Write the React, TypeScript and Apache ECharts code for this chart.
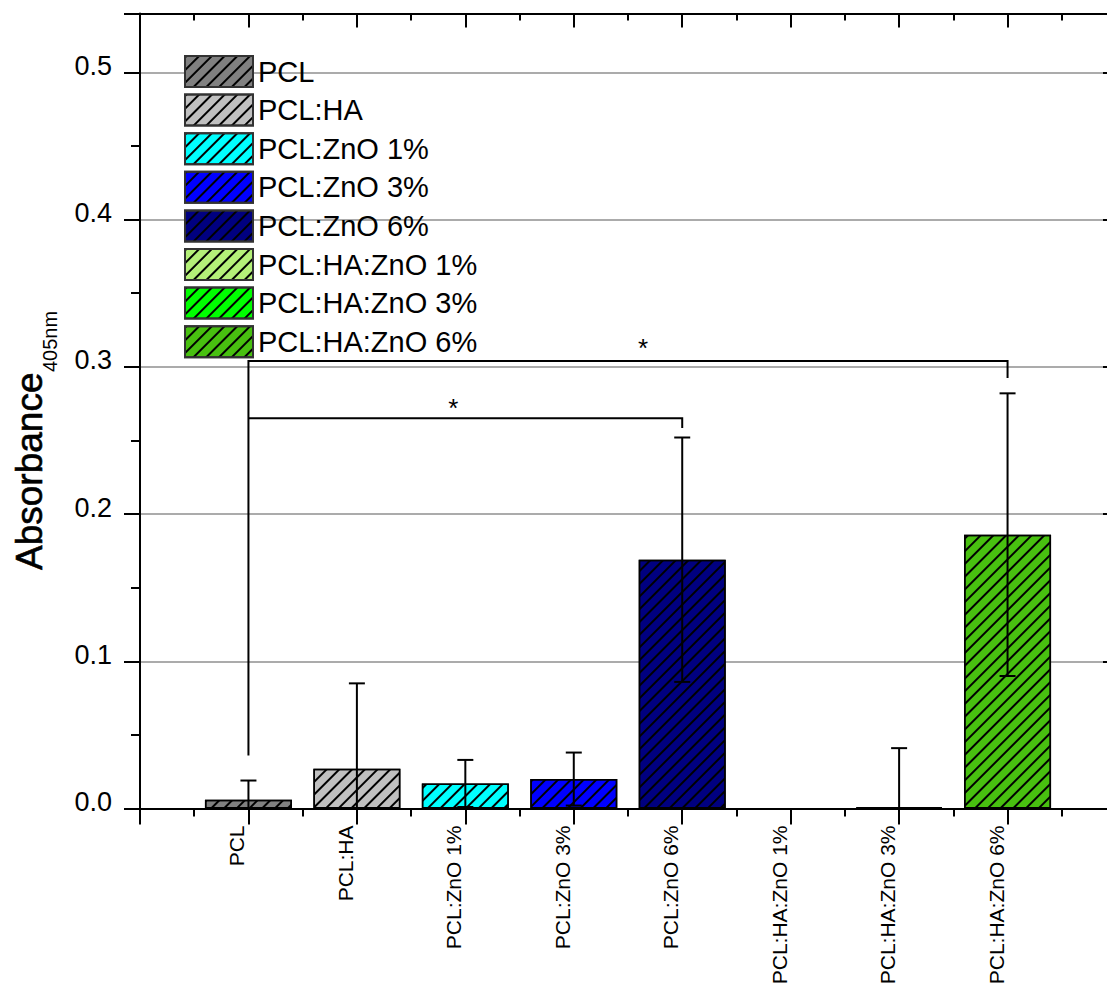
import React, { useEffect, useRef } from 'react';
import * as echarts from 'echarts';

const categories = ['PCL', 'PCL:HA', 'PCL:ZnO 1%', 'PCL:ZnO 3%', 'PCL:ZnO 6%', 'PCL:HA:ZnO 1%', 'PCL:HA:ZnO 3%', 'PCL:HA:ZnO 6%'];
const means = [0.006, 0.027, 0.017, 0.020, 0.169, 0, 0.001, 0.186];
const errors = [0.013, 0.058, 0.016, 0.018, 0.083, 0, 0.040, 0.096];
const colors = ['#808080', '#c0c0c0', '#00ffff', '#0000ff', '#000080', '#b4f078', '#00ff00', '#48c010'];
// bracket: [fromPos, toPos, barY, leftLegEnd, rightLegEnd]
const brackets = [
  [1, 8, 0.304, 0.036, 0.2925],
  [1, 5, 0.265, 0.265, 0.2585],
];
// star markers: [xPos, yValue]
const stars = [
  [4.64, 0.313],
  [2.89, 0.272],
];

const FONT = '"Liberation Sans", Arial, sans-serif';

export default function App() {
  const ref = useRef<HTMLDivElement>(null);
  useEffect(() => {
    if (!ref.current) return;
    const chart = echarts.init(ref.current, null, { renderer: 'svg' });
    const hatch = {
      symbol: 'rect',
      symbolSize: 1,
      dashArrayX: [1, 0],
      dashArrayY: [1.1, 6.7],
      rotation: -Math.PI / 4,
      color: '#000',
    };
    const axisLineStyle = { color: '#000', width: 2 };
    const barSeries = categories.map((name, i) => ({
      type: 'bar',
      name,
      data: [[i + 1, means[i]]],
      barWidth: 87,
      barGap: '-100%',
      itemStyle: { color: colors[i], borderColor: '#000', borderWidth: means[i] > 0 ? 1.5 : 0, decal: hatch },
    }));
    const errData = categories
      .map((c, i) => [i + 1, means[i], errors[i]])
      .filter((d) => d[2] > 0);
    const option: any = {
      animation: false,
      backgroundColor: '#fff',
      grid: { left: 140, top: 13.5, right: 14, bottom: 178.5, containLabel: false, outerBoundsMode: 'none' },
      legend: {
        orient: 'vertical',
        left: 184,
        top: 55,
        padding: 0,
        icon: 'rect',
        itemWidth: 68,
        itemHeight: 31,
        itemGap: 5.6,
        selectedMode: false,
        data: categories,
        itemStyle: { borderColor: '#333', borderWidth: 2 },
        textStyle: { fontSize: 29, color: '#000', fontFamily: FONT, lineHeight: 31 },
      },
      xAxis: [
        {
          type: 'value',
          position: 'bottom',
          min: 0,
          max: 9,
          interval: 1,
          axisLine: { show: true, onZero: false, lineStyle: axisLineStyle },
          axisTick: { show: true, length: 16, lineStyle: axisLineStyle },
          minorTick: { show: true, splitNumber: 2, length: 8, lineStyle: axisLineStyle },
          splitLine: { show: false },
          axisLabel: {
            rotate: 90,
            margin: 17,
            fontSize: 21,
            color: '#000',
            fontFamily: FONT,
            verticalAlign: 'bottom',
            lineHeight: 23,
            formatter: (v: number) => {
              const k = Math.round(v);
              return Math.abs(v - k) < 1e-6 && k >= 1 && k <= categories.length ? categories[k - 1] : '';
            },
          },
        },
        {
          type: 'value',
          position: 'top',
          min: 0,
          max: 9,
          interval: 1,
          axisLine: { show: true, onZero: false, lineStyle: axisLineStyle },
          axisTick: { show: true, inside: true, length: 14, lineStyle: axisLineStyle },
          minorTick: { show: true, splitNumber: 2, length: 7, lineStyle: axisLineStyle },
          splitLine: { show: false },
          axisLabel: { show: false },
        },
      ],
      yAxis: [
        {
          type: 'value',
          position: 'left',
          min: 0,
          max: 0.54,
          interval: 0.1,
          axisLine: { show: true, onZero: false, lineStyle: axisLineStyle },
          axisTick: { show: true, length: 16, lineStyle: axisLineStyle },
          minorTick: { show: true, splitNumber: 2, length: 9, lineStyle: axisLineStyle },
          splitLine: { show: true, lineStyle: { color: '#8f8f8f', width: 1.5 } },
          axisLabel: {
            fontSize: 27,
            color: '#000',
            fontFamily: FONT,
            margin: 28,
            verticalAlign: 'bottom',
            lineHeight: 13,
            showMaxLabel: false,
            formatter: (v: number) => {
              const r = Math.round(v * 10) / 10;
              return Math.abs(v - r) < 1e-6 ? r.toFixed(1) : '';
            },
          },
        },
        {
          type: 'value',
          position: 'right',
          min: 0,
          max: 0.54,
          interval: 0.1,
          axisLine: { show: true, onZero: false, lineStyle: axisLineStyle },
          axisTick: { show: true, inside: true, length: 13, lineStyle: axisLineStyle },
          splitLine: { show: false },
          axisLabel: { show: false },
        },
      ],
      graphic: [
        {
          type: 'text',
          x: 29,
          y: 570,
          rotation: Math.PI / 2,
          z: 100,
          style: {
            text: 'Absorbance',
            fontSize: 37,
            fontFamily: FONT,
            fill: '#000',
            stroke: '#000',
            lineWidth: 0.6,
            align: 'left',
            verticalAlign: 'middle',
            textAlign: 'left',
            textVerticalAlign: 'middle',
          },
        },
        {
          type: 'text',
          x: 50,
          y: 372,
          rotation: Math.PI / 2,
          z: 100,
          style: {
            text: '405nm',
            fontSize: 20,
            fontFamily: FONT,
            fill: '#000',
            align: 'left',
            verticalAlign: 'middle',
            textAlign: 'left',
            textVerticalAlign: 'middle',
          },
        },
      ],
      series: [
        ...barSeries,
        {
          type: 'custom',
          name: 'errors',
          xAxisIndex: 0,
          yAxisIndex: 0,
          z: 5,
          data: errData,
          renderItem: (params: any, api: any) => {
            const x = api.value(0);
            const m = api.value(1);
            const e = api.value(2);
            const top = api.coord([x, m + e]);
            const lowVal = Math.max(0, m - e);
            const bot = api.coord([x, lowVal]);
            const cap = 8;
            const children: any[] = [
              { type: 'line', shape: { x1: top[0], y1: top[1], x2: bot[0], y2: bot[1] }, style: { stroke: '#000', lineWidth: 2 } },
              { type: 'line', shape: { x1: top[0] - cap, y1: top[1], x2: top[0] + cap, y2: top[1] }, style: { stroke: '#000', lineWidth: 2 } },
            ];
            if (m - e >= 0) {
              children.push({ type: 'line', shape: { x1: bot[0] - cap, y1: bot[1], x2: bot[0] + cap, y2: bot[1] }, style: { stroke: '#000', lineWidth: 2 } });
            }
            return { type: 'group', children };
          },
        },
        {
          type: 'custom',
          name: 'brackets',
          xAxisIndex: 0,
          yAxisIndex: 0,
          z: 6,
          data: brackets,
          renderItem: (params: any, api: any) => {
            const x1 = api.value(0);
            const x2 = api.value(1);
            const y = api.value(2);
            const yl = api.value(3);
            const yr = api.value(4);
            const pts = [api.coord([x1, yl]), api.coord([x1, y]), api.coord([x2, y]), api.coord([x2, yr])];
            return { type: 'polyline', shape: { points: pts }, style: { stroke: '#000', lineWidth: 2, fill: null } };
          },
        },
        {
          type: 'custom',
          name: 'stars',
          xAxisIndex: 0,
          yAxisIndex: 0,
          z: 6,
          data: stars,
          renderItem: (params: any, api: any) => {
            const p = api.coord([api.value(0), api.value(1)]);
            return {
              type: 'text',
              x: p[0],
              y: p[1],
              style: { text: '*', fontSize: 26, fontFamily: FONT, fill: '#000', align: 'center', verticalAlign: 'middle' },
            };
          },
        },
      ],
    };
    chart.setOption(option);
    return () => chart.dispose();
  }, []);
  return (
    <div style={{ position: 'fixed', left: 0, top: 0, width: 1107, height: 987, overflow: 'hidden', background: '#fff' }}>
      <div ref={ref} style={{ width: 1130, height: 987 }} />
    </div>
  );
}
